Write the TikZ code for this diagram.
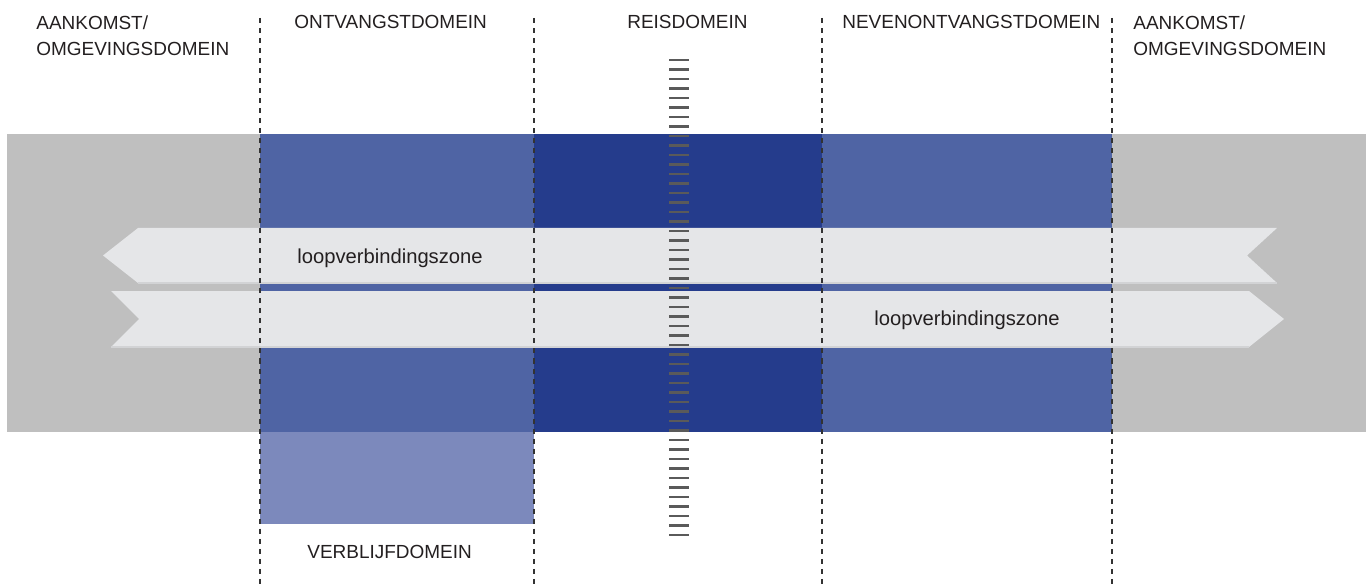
\documentclass[tikz,border=0pt]{standalone}
\usepackage{fontspec}
\setmainfont{Liberation Sans}
\definecolor{bandgray}{HTML}{BFBFBF}
\definecolor{midblue}{HTML}{4F64A4}
\definecolor{darkblue}{HTML}{253C8C}
\definecolor{lightblue}{HTML}{7C89BC}
\definecolor{stripgray}{HTML}{E5E6E8}
\definecolor{stripedge}{HTML}{D2D3D5}
\definecolor{railgray}{HTML}{5A5A5A}
\definecolor{txtgray}{HTML}{231F20}
\definecolor{divgray}{HTML}{333333}
\tikzset{
  caplabel/.style={inner sep=0pt, text=txtgray, font=\fontsize{10.8pt}{14.8pt}\selectfont, align=left},
  zonelabel/.style={inner sep=0pt, text=txtgray, font=\fontsize{11.5pt}{14pt}\selectfont},
  divider/.style={draw=divgray, line width=0.8pt, dash pattern=on 2.85pt off 2.85pt},
  railtie/.style={draw=railgray, line width=1.7pt},
  strip/.style={fill=stripgray},
}
\begin{document}
\begin{tikzpicture}[x=0.02cm, y=-0.02cm]
\useasboundingbox (0,0) rectangle (1372,584);
% gray band
\fill[bandgray] (7,134) rectangle (1366,432);
% domain blocks
\fill[midblue] (260,134) rectangle (534,432);
\fill[darkblue] (534,134) rectangle (822,432);
\fill[midblue] (822,134) rectangle (1112,432);
\fill[lightblue] (260,432) rectangle (534,524);
% walking strips
\fill[strip] (103,255.5) -- (138,228) -- (1277,228) -- (1247,255.5) -- (1277,283) -- (138,283) -- cycle;
\draw[stripedge, line width=0.6pt] (138,283) -- (1277,283);
\fill[strip] (111,291) -- (1249,291) -- (1284,319) -- (1249,347) -- (111,347) -- (139,319) -- cycle;
\draw[stripedge, line width=0.6pt] (111,347) -- (1249,347);
% dividers
\foreach \x/\n in {260/a,534/b,822/c,1112/d}{
  \coordinate (top\n) at (\x,18);
  \coordinate (bot\n) at (\x,584);
  \draw[divider] (top\n) -- (bot\n);
}
% railway
\foreach \i in {0,...,50}{
  \draw[railtie] (669,60+9.5*\i) -- (689,60+9.5*\i);
}
% labels
\node[caplabel, anchor=north west] (aank1) at (36,15) {AANKOMST/\\OMGEVINGSDOMEIN};
\node[caplabel, anchor=base west] (ontv) at (294,29) {ONTVANGSTDOMEIN};
\node[caplabel, anchor=base west] (reis) at (627,29) {REISDOMEIN};
\node[caplabel, anchor=base west] (neven) at (842,29) {NEVENONTVANGSTDOMEIN};
\node[caplabel, anchor=north west] (aank2) at (1133,15) {AANKOMST/\\OMGEVINGSDOMEIN};
\node[caplabel, anchor=base west] (verbl) at (307,558) {VERBLIJFDOMEIN};
\node[zonelabel, anchor=base west] (loop1) at (297,263) {loopverbindingszone};
\node[zonelabel, anchor=base west] (loop2) at (874,325) {loopverbindingszone};
\end{tikzpicture}
\end{document}
